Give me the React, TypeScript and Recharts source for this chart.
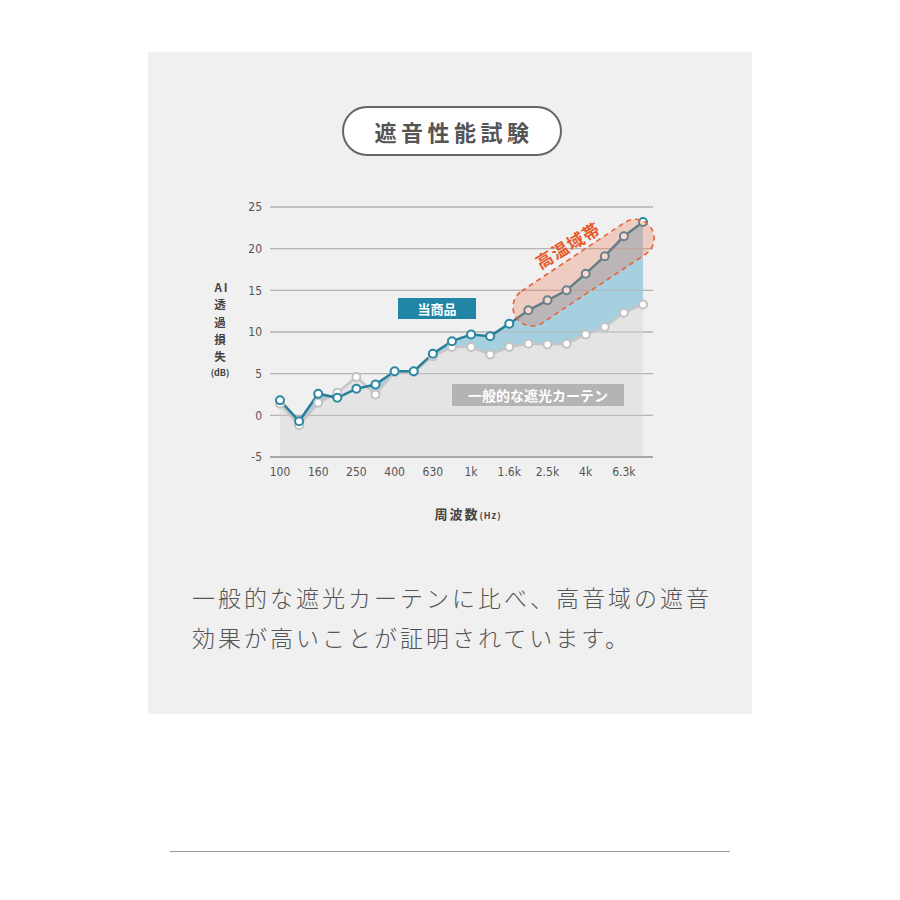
import {
  ComposedChart,
  Area,
  Line,
  XAxis,
  YAxis,
  CartesianGrid,
  ReferenceLine,
  ReferenceDot
} from 'recharts';

// 1/3 octave bands
const freqs = [
  '100', '125', '160', '200', '250', '315', '400', '500', '630', '800',
  '1k', '1.25k', '1.6k', '2k', '2.5k', '3.15k', '4k', '5k', '6.3k', '8k'
];
// 当商品
const productLoss = [
  1.8, -0.7, 2.6, 2.1, 3.2, 3.7, 5.3, 5.3, 7.4, 8.9,
  9.7, 9.5, 11.0, 12.6, 13.8, 15.0, 17.0, 19.1, 21.5, 23.2
];
// 一般的な遮光カーテン
const curtainLoss = [
  1.4, -1.2, 1.5, 2.7, 4.6, 2.5, 5.2, 5.2, 7.1, 8.2,
  8.2, 7.3, 8.2, 8.6, 8.5, 8.6, 9.7, 10.6, 12.3, 13.3
];
const yTicks = [-5, 0, 5, 10, 15, 20, 25];
const yLabelLines = ['AI', '透', '過', '損', '失'];

const data = freqs.map((f, i) => ({
  freq: f,
  product: productLoss[i],
  curtain: curtainLoss[i]
}));

const tickFont = '"Liberation Sans Narrow", "DejaVu Sans Condensed", Roboto, sans-serif';
const jpFont = '"Noto Sans CJK JP", "Noto Sans", sans-serif';

const HighBand = (props: any) => {
  const { cx, cy } = props;
  return (
    <g>
      <g transform={`translate(${cx + 17}, ${cy - 1}) rotate(-33.7)`}>
        <rect
          x={-81}
          y={-19}
          width={162}
          height={38}
          rx={19}
          fill="#f07a5a"
          fillOpacity={0.3}
          stroke="#e8643a"
          strokeWidth={1.6}
          strokeDasharray="5 4"
        />
      </g>
      <text
        transform={`translate(${cx + 1}, ${cy - 29}) rotate(-31)`}
        textAnchor="middle"
        dominantBaseline="central"
        fill="#e85a2a"
        fontFamily={jpFont}
        fontWeight={700}
        fontSize={17}
        letterSpacing={1}
      >
        高温域帯
      </text>
    </g>
  );
};

export default function App() {
  return (
    <div style={{ position: 'absolute', left: 0, top: 0, width: 900, height: 900, background: '#fff', fontFamily: jpFont }}>
      <div style={{ position: 'absolute', left: 148, top: 52, width: 604, height: 662, background: '#f0f0f0' }} />

      <div
        style={{
          position: 'absolute', left: 342, top: 106, width: 212, height: 46,
          border: '2px solid #666', borderRadius: 26, background: '#fff',
          display: 'flex', alignItems: 'center', justifyContent: 'center',
          color: '#555', fontWeight: 700, fontSize: 22, letterSpacing: 4.5, paddingLeft: 4
        }}
      >
        遮音性能試験
      </div>

      <div style={{ position: 'absolute', left: 0, top: 0 }}>
        <ComposedChart
          width={900}
          height={900}
          data={data}
          margin={{ top: 207, right: 247, left: 0, bottom: 413 }}
        >
          <CartesianGrid vertical={false} stroke="#b4b4b4" />
          <XAxis
            dataKey="freq"
            interval={1}
            height={30}
            tickLine={false}
            axisLine={false}
            tickSize={0}
            tickMargin={10}
            padding={{ left: 10, right: 10 }}
            tick={{ fill: '#555', fontSize: 12, fontFamily: tickFont }}
          />
          <YAxis
            width={270}
            domain={[-5, 25]}
            ticks={yTicks}
            tickLine={false}
            axisLine={false}
            tickSize={0}
            tickMargin={8}
            tick={{ fill: '#555', fontSize: 12, fontFamily: tickFont }}
          />
          <Area
            dataKey="product"
            baseValue={-5}
            type="linear"
            fill="#a6cfe0"
            fillOpacity={1}
            stroke="none"
            isAnimationActive={false}
          />
          <Area
            dataKey="curtain"
            baseValue={-5}
            type="linear"
            fill="#e4e4e4"
            fillOpacity={1}
            stroke="none"
            isAnimationActive={false}
          />
          {yTicks.map((t) => (
            <ReferenceLine key={t} y={t} stroke={t === -5 ? '#9a9a9a' : '#b4b4b4'} strokeWidth={t === -5 ? 1.5 : 1} />
          ))}
          <Line
            dataKey="curtain"
            type="linear"
            stroke="#c6c6c6"
            strokeWidth={2.5}
            dot={{ r: 4, fill: '#fff', stroke: '#c2c2c2', strokeWidth: 2 }}
            activeDot={false}
            isAnimationActive={false}
          />
          <Line
            dataKey="product"
            type="linear"
            stroke="#2a7f98"
            strokeWidth={2.5}
            dot={{ r: 4, fill: '#fff', stroke: '#2b86a2', strokeWidth: 2 }}
            activeDot={false}
            isAnimationActive={false}
          />
          <ReferenceDot x="3.15k" y={17} r={0} shape={HighBand} />
        </ComposedChart>
      </div>

      <div
        style={{
          position: 'absolute', left: 398, top: 298, width: 78, height: 21, background: '#2185a6',
          color: '#fff', fontWeight: 700, fontSize: 13, display: 'flex', alignItems: 'center', justifyContent: 'center'
        }}
      >
        当商品
      </div>
      <div
        style={{
          position: 'absolute', left: 452, top: 384, width: 172, height: 22, background: '#b4b4b4',
          color: '#fff', fontWeight: 700, fontSize: 14, display: 'flex', alignItems: 'center', justifyContent: 'center'
        }}
      >
        一般的な遮光カーテン
      </div>

      {yLabelLines.map((s, i) => (
        <div
          key={s}
          style={{
            position: 'absolute', left: 200, top: 279 + i * 17.3, width: 40, textAlign: 'center',
            color: '#444', fontWeight: 700, fontSize: 11.5, lineHeight: '16px',
            letterSpacing: i === 0 ? 2 : 0, paddingLeft: i === 0 ? 2 : 0
          }}
        >
          {s}
        </div>
      ))}
      <div
        style={{
          position: 'absolute', left: 200, top: 367, width: 40, textAlign: 'center',
          color: '#444', fontWeight: 700, fontSize: 9, lineHeight: '12px'
        }}
      >
        (dB)
      </div>

      <div
        style={{
          position: 'absolute', left: 400, top: 504, width: 136, textAlign: 'center',
          color: '#444', fontWeight: 700, fontSize: 13, letterSpacing: 2
        }}
      >
        周波数<span style={{ fontSize: 9, letterSpacing: 1 }}>(Hz)</span>
      </div>

      <div
        style={{
          position: 'absolute', left: 192, top: 577, width: 540,
          color: '#555', fontSize: 23, letterSpacing: 3, lineHeight: '40px', fontWeight: 300
        }}
      >
        <div>一般的な遮光カーテンに比べ、高音域の遮音</div>
        <div>効果が高いことが証明されています。</div>
      </div>

      <div style={{ position: 'absolute', left: 170, top: 851, width: 560, height: 1, background: '#999' }} />
    </div>
  );
}
